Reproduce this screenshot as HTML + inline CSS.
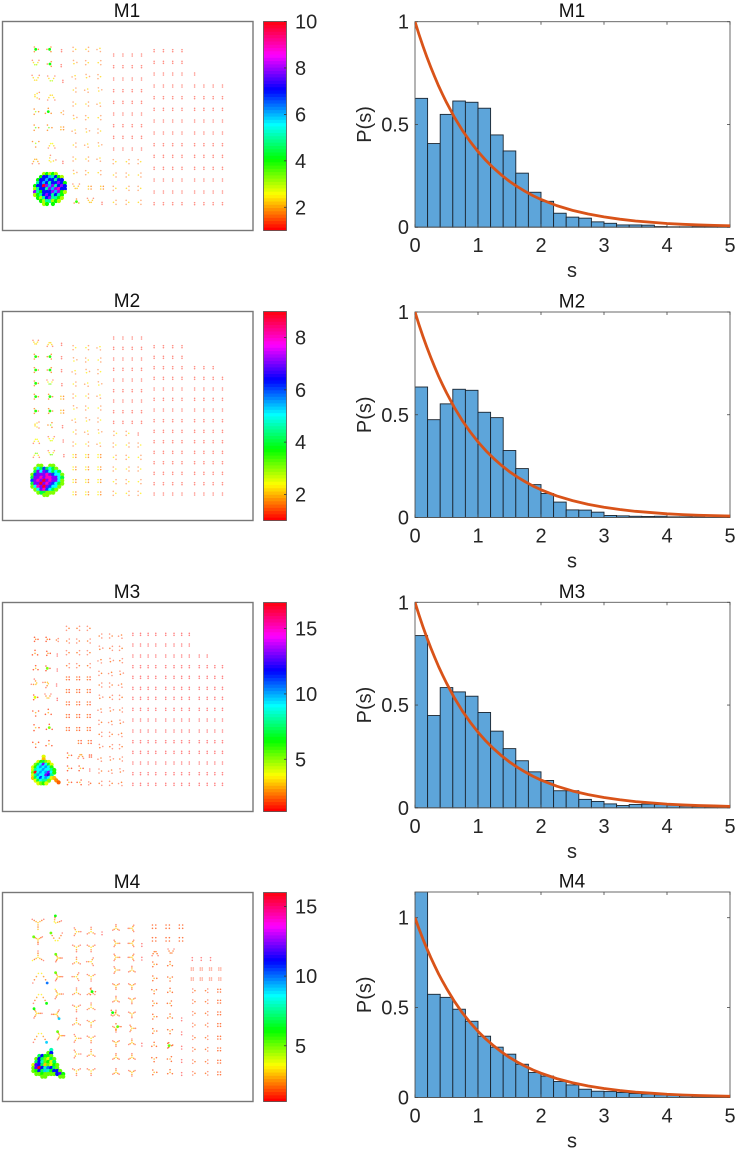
<!DOCTYPE html>
<html lang="en">
<head>
<meta charset="utf-8">
<title>M1-M4 scatter maps and spacing histograms</title>
<style>
html,body{margin:0;padding:0;background:#fff;}
svg{display:block;font-family:"Liberation Sans",Arial,sans-serif;}
</style>
</head>
<body>
<svg id="fig" xmlns="http://www.w3.org/2000/svg" width="736" height="1150" viewBox="0 0 736 1150"></svg>
<script>
/* ---------- histogram data (bin width 0.2) ---------- */
const binWidth = 0.2;
const histM1 = [.627,.407,.549,.614,.608,.579,.449,.371,.263,.170,.126,.068,.049,.044,.026,.019,.011,.011,.010,.003,.002,.002,.003,.002,.001];
const histM2 = [.635,.476,.553,.624,.619,.512,.486,.326,.238,.160,.117,.075,.037,.036,.026,.010,.008,.006,.005,.006,.003,.003,.002,.001,.001];
const histM3 = [.838,.449,.585,.564,.543,.464,.373,.288,.229,.175,.133,.083,.083,.041,.031,.019,.011,.016,.018,.016,.013,.008,.006,.005,.003];
const histM4 = [1.16,.574,.557,.491,.424,.341,.280,.241,.185,.139,.119,.089,.070,.046,.035,.033,.028,.022,.019,.015,.013,.009,.007,.006,.004];
const curveS = [0,.0625,.125,.1875,.25,.3125,.375,.4375,.5,.625,.75,.875,1,1.125,1.25,1.375,1.5,1.625,1.75,1.875,2,2.25,2.5,2.75,3,3.25,3.5,3.75,4,4.25,4.5,4.75,5];
const curveP = [1,.939,.882,.829,.779,.732,.687,.646,.607,.535,.472,.417,.368,.325,.287,.253,.223,.197,.174,.153,.135,.105,.082,.064,.050,.039,.030,.024,.018,.014,.011,.009,.007];
const xTickValues = [0,1,2,3,4,5];
const yTickValues = [0,0.5,1];
const yTickLabels = ['0','0.5','1'];

/* ---------- colour bar ranges and ticks ---------- */
const rangeM1 = [1,10];
const rangeM2 = [1,9];
const rangeM3 = [1,17];
const rangeM4 = [1,16];
const cbTicksM1 = [2,4,6,8,10];
const cbTicksM2 = [2,4,6,8];
const cbTicksM3 = [5,10,15];
const cbTicksM4 = [5,10,15];

/* ---------- scatter data: lattice blocks [xs, ys, motif, peak, size, rotation list] ---------- */
const blocksM1 = [
 [[222,260,297],[148,188,230,270,312,353,393,435,477,518],'tri',2.3,7,[90,270,30,210]],
 [[268,305],[563],'quad',2.2,4,[0]],
 [[343,382,418],[485,525,565,607],'tri',2.3,7,[90,270]],
 [[340,368,396,424],[165,200,237,272,307,342,377,412,447],'pair',1.2,3,[0]],
 [[462,490,518,546],[152,187,222,258,293,328,363,399,434,469,505,540,576,611],'pair',1.2,3,[0]],
 [[584],[222,258,293,328,363,399,434,469,505,540,576,611],'pair',1.2,3,[0]],
 [[612,640,668],[258,293,328,363,399,434,469,505,540,576,611],'pair',1.2,3,[0]]
];
const cellsM1 = [
 [105,148,'T',4,8,90],[147,148,'T',4,8,270],[183,152,'pair',1.3,3,0],
 [105,192,'V',3,11,0],[148,192,'T',4,8,270],[182,197,'pair',1.3,3,0],
 [105,238,'V',2.3,12,0],[152,240,'V',3,12,0],[187,244,'pair',1.3,3,0],
 [105,287,'V',2.3,11,90],[152,288,'V',2.3,12,180],
 [105,335,'T',3,9,90],[143,335,'T',4,10,0],[185,338,'tri',2,6,270],
 [105,383,'T',3.4,9,90],[145,383,'T',3.4,9,90],[185,385,'quad',2,4,0],
 [105,430,'T',3,11,180],[153,433,'V',2.6,11,180],
 [105,480,'V',2.1,11,180],[150,482,'V',2.5,12,40],[187,487,'pair',1.3,3,0],
 [227,563,'V',2.2,11,0],[228,605,'T',3.8,8,0],[270,605,'V',2.2,10,0],[305,610,'pair',1.4,3,0]
];
const blocksM2 = [
 [[222,260,297],[173,210,245,282,318,354,390,426,462],'tri',2.3,7,[90,270,30,210]],
 [[222,260,297],[498,535,573,610],'quad',2.3,4,[0]],
 [[340,368,396,424],[144,175,207,238,270,302,333,365,397],'pair',1.2,3,[0]],
 [[343,382,418],[465,502,537,575,610],'tri',2.3,7,[90,270]],
 [[345,382],[430],'tri',2.3,7,[90]],
 [[414],[432],'pair',1.4,3,[0]],
 [[462,490,518,546],[170,202,233,265,297,328,360,392,424,455,487,518,550,581,612],'pair',1.2,3,[0]],
 [[584,612,640],[233,265,297,328,360,392,424,455,487,518,550,581,612],'pair',1.2,3,[0]],
 [[668],[265,297,328,360,392,424,455,487,518,550,581,612],'pair',1.2,3,[0]]
];
const cellsM2 = [
 [105,160,'V',2.2,9,0],[148,160,'V',2.2,9,180],[183,163,'pair',1.3,3,0],
 [105,200,'T',3.6,8,90],[148,200,'T',3.6,8,270],[183,203,'pair',1.3,3,0],
 [105,240,'T',3.6,8,90],[148,240,'T',3.6,8,270],[183,242,'pair',1.3,3,0],
 [105,280,'T',3.6,8,90],[148,280,'V',3.6,10,0],[184,284,'pair',1.3,3,0],
 [105,320,'T',3.6,8,90],[148,320,'T',3.6,8,90],[185,323,'quad',2,4,0],
 [105,363,'T',3.6,8,90],[148,363,'T',3.6,8,90],[185,365,'quad',2,4,0],
 [105,405,'V',2.2,10,90],[150,405,'T',3,8,270],[186,410,'pair',1.3,3,0],
 [107,450,'V',2.4,10,180],[152,450,'V',2.6,10,0],[188,453,'pair',1.3,3,0],
 [107,492,'V',3,10,180],[152,492,'V',3.2,10,0],[190,497,'pair',1.3,3,0]
];
const blocksM3 = [
 [[202,233,265],[115,153,188,227],'tri',2.2,7,[90,270]],
 [[202,233,265],[265,303,340,378,417],'quad',2.2,4,[0]],
 [[238,268],[456],'quad',2.2,4,[0]],
 [[300,332,362],[138,175,212,250,285,322,360,397,433,470,507,543,580],'tri',2.2,7,[270,90,30,210]],
 [[398,421,444,467,497,522,545,568],[133,165,198,230,262,295,325,358,390,423,455,487,519,551,583],'pair',1.3,3,[0]],
 [[598,622],[198,230,262,295,325,358,390,423,455,487,519,551,583],'pair',1.3,3,[0]],
 [[645,668],[230,262,295,325,358,390,423,455,487,519,551,583],'pair',1.3,3,[0]]
];
const cellsM3 = [
 [105,148,'T',2.4,7,90],[140,148,'T',2.4,7,90],[170,150,'tri',2,5,270],
 [103,190,'T',2.6,9,0],[142,190,'T',2.6,7,90],[170,195,'pair',1.4,3,0],
 [105,235,'T',3,8,0],[140,235,'T',5,8,90],[170,240,'pair',1.4,3,0],
 [105,280,'V',5,10,300],[140,280,'V',5,10,240],[168,285,'pair',1.4,3,0],
 [103,322,'T',4,8,90],[142,322,'V',4.5,10,0],[170,328,'pair',1.4,3,0],
 [105,368,'T',2.8,10,180],[143,368,'T',2.8,10,0],
 [105,413,'T',3,10,90],[146,413,'T',5,10,0],
 [105,462,'T',2.8,10,180],[145,462,'T',3,10,0],
 [205,496,'T',3,8,90],[241,496,'V',2.5,9,180],[270,498,'quad',1.6,3,0],
 [205,535,'T',3,8,90],[240,535,'T',3,8,90],[268,540,'pair',1.4,3,0],
 [205,577,'T',3,8,90],[238,577,'T',3,8,270],[268,580,'tri',1.8,5,90]
];
const blocksM4 = [
 [[228,272],[185,232,275,320,367,412,458,505,552,603],'Y',3.4,13,[90,0,180,60,0,270,30,180,0,240,60,120,0,300,90,180]],
 [[305],[190],'pair',1.5,4,[0]],
 [[347,395],[175,220,262,300,347,390,432,475,518,562,607],'Y',3.2,11,[0,270,90,270,90,270,90,0,180,60,0,180,0,60,60,90,180,0,120,0,0,60]],
 [[425],[225,266,524],'pair',1.5,4,[0]],
 [[462,510],[283,325,363,400,440,483,525,567,607],'T',2.8,8,[90,0,90,60,180,0,90,270,90,0,90,180,0,90,60,270,90,0]],
 [[462,503,543],[170,208],'quad',1.8,5,[0]],
 [[545],[448,490,533,573,612],'pair',1.6,4,[0]],
 [[582,620],[362,395,430,465,503,538,575,610],'tri',2,6,[90,270]],
 [[658],[362,395,430,465,503,538,575,610],'quad',1.8,4,[0]],
 [[577,604,632],[267],'pair',1.5,4,[0]],
 [[577,604,632,660],[297,327],'quad',1.5,3,[0]]
];
const cellsM4 = [
 [112,158,'YL',3,20,300],[165,155,'VL',6,13,40],
 [112,208,'YL',5,15,60],[168,208,'VL',5,19,0],
 [112,262,'YL',3.4,19,0],[172,264,'YL',5,13,90],
 [118,315,'VL',10,24,180],[172,320,'YL',5,14,90],
 [118,378,'VL',6,22,180],[172,372,'YL',3.4,16,90],
 [108,430,'YL',6,16,90],[168,433,'YL',9,15,270],
 [118,495,'VL',9,22,180],[178,497,'YL',5,14,90],
 [465,247,'V',2,10,180],[513,247,'V',2,10,0],[337,428,'T',6,8,90],[352,470,'T',5,10,90],[507,527,'T',5,8,90],[275,365,'T',6,10,90]
];

/* ---------- scatter data: dense cluster rows [y, first x, step, values] ---------- */
const clusterM1 = [
 [522,103,9,[0,0,0,3,4,3,4,3,0,0,0]],[531,103,9,[0,0,4,7,7,6,5,7,4,3,0]],
 [540,103,9,[0,4,7,7,6,7,7,5,7,7,0]],[549,103,9,[0,5,7,6,7,5,7,7,8,7,4]],
 [558,103,9,[4,7,7,10,8,6,8,5,7,8,7]],[567,103,9,[3,5,7,7,5,8,6,8,9,7,7]],
 [576,103,9,[8,5,4,7,7,7,8,6,8,4,3]],[585,103,9,[3,4,5,7,8,7,5,7,5,4,0]],
 [594,103,9,[0,4,3,5,7,8,5,5,4,3,0]],[603,103,9,[0,0,4,3,5,5,3,4,3,0,0]],
 [612,103,9,[0,0,0,3,4,0,4,0,0,0,0]]
];
const clusterM2 = [
 [527,95,9,[0,0,3,3,0,0,3,3,0,0,0]],[536,95,9,[0,3,5,4,6,4,5,4,3,0,0]],
 [545,95,9,[0,4,7,5,7,6,5,4,5,4,0]],[554,95,9,[3,6,7,7,7,8,7,6,5,5,3]],
 [563,95,9,[4,7,7,8,7,8,8,7,7,5,4]],[572,95,9,[6,7,8,7,9,7,8,7,7,5,3]],
 [581,95,9,[4,7,7,9,7,8,7,6,5,4,3]],[590,95,9,[3,5,8,7,9,7,6,5,5,3,0]],
 [599,95,9,[0,3,5,7,8,6,5,4,3,0,0]],[608,95,9,[0,0,3,4,4,3,3,3,0,0,0]],
 [615,95,9,[0,0,0,0,3,3,0,0,0,0,0]]
];
const clusterM3 = [
 [500,97,8,[0,0,0,0,4,0,0,0,0]],[508,97,8,[0,0,0,0,3,0,0,0,0]],
 [516,97,8,[0,0,4,6,7,5,4,0,0]],[524,97,8,[0,5,7,9,13,9,6,4,0]],
 [532,97,8,[4,6,9,10,9,10,9,6,0]],[540,97,8,[4,8,9,9,10,9,9,8,6]],
 [548,97,8,[5,17,9,10,9,10,13,9,6]],[556,97,8,[4,8,10,9,9,13,12,8,0]],
 [564,97,8,[3,7,9,11,9,10,9,4,3]],[572,97,8,[0,4,7,9,8,8,5,0,0]],
 [580,97,8,[0,0,4,5,6,4,0,0,0]],[571,167,7,[2.5]],[577,174,7,[2]]
];
const clusterM4 = [
 [540,98,9,[0,0,0,0,0,0,8,0,0,0,0]],[549,98,9,[0,0,0,0,0,5,11,0,0,0,0]],
 [558,98,9,[0,0,7,11,6,6,5,0,0,0,0]],[567,98,9,[0,5,11,7,5,4,7,5,0,0,0]],
 [576,98,9,[0,7,11,8,5,6,4,7,0,0,0]],[585,98,9,[4,12,11,7,3,5,4,6,5,0,0]],
 [594,98,9,[5,12,16,11,8,10,11,7,5,0,0]],[603,98,9,[5,6,11,7,9,8,6,11,11,5,0]],
 [612,98,9,[0,5,5,6,5,5,5,5,11,12,6]],[620,98,9,[0,0,0,5,5,0,0,0,0,5,5]]
];

/* ---------- marker motifs: offsets in cell size units plus weight (1 = peak value) ---------- */
const motifs = {
 pair:[[0,-1,0],[0,1,0]],
 quad:[[-1,-1,.5],[-1,1,.5],[1,-1,.2],[1,1,.2]],
 tri:[[0,-.5,1],[-.85,.6,.15],[.85,.6,.15]],
 T:[[0,0,1],[0,-1,.2],[.87,.5,.2],[-.87,.5,.2]],
 Y:[[0,0,1],[0,-.55,.5],[0,-1,.05],[.48,.28,.5],[.87,.5,.05],[-.48,.28,.5],[-.87,.5,.05]],
 YL:[[0,0,.8],[0,-.33,.6],[0,-.66,.3],[0,-1,.05],[.29,.17,.6],[.57,.33,.3],[.87,.5,.05],[-.29,.17,.6],[-.57,.33,.3],[-.87,.5,1]],
 V:[[-.9,-1,.05],[-.6,-.4,.4],[-.25,.2,.75],[.25,.2,.75],[.6,-.4,.4],[.9,-1,.05]],
 VL:[[-.9,-1,1],[-.7,-.6,.3],[-.45,-.2,.5],[-.2,.2,.8],[.2,.2,.8],[.45,-.2,.5],[.7,-.6,.3],[.9,-1,.05]]
};

/* ---------- layout ---------- */
const svgRoot = document.getElementById('fig');
const NS = 'http://www.w3.org/2000/svg';
function mk(parent, tag, attrs){
  const el = document.createElementNS(NS, tag);
  for(const k in attrs) el.setAttribute(k, attrs[k]);
  parent.appendChild(el);
  return el;
}
function hsvColor(v, range){
  const level = Math.min(63, Math.floor((v-range[0])/(range[1]-range[0])*64));
  return 'hsl(' + (level/64*360) + ',100%,50%)';
}

function drawScatter(title, top, domainY, range, blocks, cells, cluster, ticks){
  const left = 2.5, right = 253, height = 209;
  const xS = v => left + (v-5)*(right-left)/755;
  const yS = v => top + (v-domainY)*height/627;

  const t = mk(svgRoot,'text',{x:127,y:top-4,'text-anchor':'middle','font-size':19,fill:'#111'});
  
  
  t.textContent = title;

  const frame = mk(svgRoot,'rect',{x:left,y:top+.5,width:right-left,height:height,fill:'#fff',stroke:'#777','stroke-width':1.4});
  
  

  const g = mk(svgRoot,'g',{});
  
  

  function drawCell(x,y,motif,peak,size,rot){
    const a = rot*Math.PI/180, c = Math.cos(a), s = Math.sin(a);
    motifs[motif].forEach(o=>{
      const dx = o[0]*size, dy = o[1]*size;
      const val = o[2] === 1 ? peak : Math.min(peak, 1.15 + o[2]*2.8);
      const strong = val > 3.4;
      const d = mk(g,'circle',{cx:xS(x+dx*c-dy*s).toFixed(2),cy:yS(y+dx*s+dy*c).toFixed(2),r:strong?1.4:.8,fill:hsvColor(val,range),'fill-opacity':strong?.95:(val<1.6?.48:.72)});
      
      
    });
  }
  blocks.forEach(b=>{
    let idx = 0;
    b[1].forEach(y=>{
      b[0].forEach(x=>{
        drawCell(x,y,b[2],b[3],b[4],b[5][idx % b[5].length]);
        idx++;
      });
    });
  });
  cells.forEach(c=>drawCell(c[0],c[1],c[2],c[3],c[4],c[5]));
  cluster.forEach(row=>{
    row[3].forEach((v,i)=>{
      if(!v) return;
      const d = mk(g,'circle',{cx:xS(row[1]+i*row[2]).toFixed(2),cy:yS(row[0]).toFixed(2),r:2.1,fill:hsvColor(v,range)});
      
      
    });
  });

  /* colour bar */
  const cbX = 263.5, cbW = 23, cbTop = top+.5;
  const cb = mk(svgRoot,'g',{});
  
  
  for(let i=0;i<64;i++){
    const val = range[0] + (i+.5)/64*(range[1]-range[0]);
    const r = mk(cb,'rect',{x:cbX,y:(cbTop+height-(i+1)*height/64).toFixed(2),width:cbW,height:(height/64+.4).toFixed(2),fill:hsvColor(val,range)});
    
    
  }
  const cbFrame = mk(cb,'rect',{x:cbX,y:cbTop,width:cbW,height:height,fill:'none',stroke:'#555','stroke-width':.8});
  
  
  const cbY = v => cbTop + height - (v-range[0])/(range[1]-range[0])*height;
  ticks.forEach(v=>{
    const tk = mk(cb,'line',{x1:cbX+cbW-2.5,x2:cbX+cbW,y1:cbY(v),y2:cbY(v),stroke:'#333','stroke-width':.8});
    
    
    const lb = mk(cb,'text',{x:295,y:cbY(v)+7,'font-size':20,fill:'#262626'});
    
    
    lb.textContent = v;
  });
}

function drawHist(title, top, yMax, values){
  const left = 415, right = 730, height = 205.5, bottom = top+height;
  const xS = s => left + s*(right-left)/5;
  const yS = p => bottom - p*height/yMax;

  const clipId = 'clip-' + title;
  const defs = mk(svgRoot,'defs',{});
  const cp = mk(defs,'clipPath',{id:clipId});
  mk(cp,'rect',{x:left,y:top,width:right-left,height:height+1});

  const t = mk(svgRoot,'text',{x:572,y:top-4.5,'text-anchor':'middle','font-size':19,fill:'#111'});
  
  
  t.textContent = title;

  const bars = mk(svgRoot,'g',{'clip-path':'url(#'+clipId+')'});
  
  
  values.forEach((v,i)=>{
    const x0 = xS(i*binWidth), x1 = xS((i+1)*binWidth), y = yS(v);
    const b = mk(bars,'rect',{x:x0.toFixed(2),y:y.toFixed(2),width:(x1-x0).toFixed(2),height:(bottom-y).toFixed(2),fill:'#5da5da',stroke:'#1a2530','stroke-width':.9});
    
    
  });

  const frame = mk(svgRoot,'rect',{x:left,y:top,width:right-left,height:height,fill:'none',stroke:'#5a5a5a','stroke-width':.9});
  
  

  xTickValues.forEach(v=>{
    [[bottom,bottom-3],[top,top+3]].forEach(p=>{
      const tk = mk(svgRoot,'line',{x1:xS(v),x2:xS(v),y1:p[0],y2:p[1],stroke:'#444','stroke-width':.8});
      
      
    });
    const lb = mk(svgRoot,'text',{x:xS(v),y:bottom+25,'text-anchor':'middle','font-size':20,fill:'#262626'});
    
    
    lb.textContent = v;
  });
  yTickValues.forEach((v,i)=>{
    [[left,left+3],[right,right-3]].forEach(p=>{
      const tk = mk(svgRoot,'line',{x1:p[0],x2:p[1],y1:yS(v),y2:yS(v),stroke:'#444','stroke-width':.8});
      
      
    });
    const lb = mk(svgRoot,'text',{x:409,y:yS(v)+7,'text-anchor':'end','font-size':20,fill:'#262626'});
    
    
    lb.textContent = yTickLabels[i];
  });

  const d = curveS.map((s,i)=>(i?'L':'M')+xS(s).toFixed(2)+' '+yS(curveP[i]).toFixed(2)).join('');
  const curve = mk(svgRoot,'path',{d:d,fill:'none',stroke:'#d95319','stroke-width':2.8,'stroke-linejoin':'round','clip-path':'url(#'+clipId+')'});
  
  

  const xl = mk(svgRoot,'text',{x:572,y:bottom+50,'text-anchor':'middle','font-size':20,fill:'#262626'});
  
  
  xl.textContent = 's';

  const cy = top+height/2;
  const yl = mk(svgRoot,'text',{x:371,y:cy,'text-anchor':'middle','font-size':20,fill:'#262626',transform:'rotate(-90 371 '+cy+')'});
  
  
  yl.textContent = 'P(s)';
}

drawScatter('M1',21,63,rangeM1,blocksM1,cellsM1,clusterM1,cbTicksM1);
drawScatter('M2',311,63,rangeM2,blocksM2,cellsM2,clusterM2,cbTicksM2);
drawScatter('M3',602,36,rangeM3,blocksM3,cellsM3,clusterM3,cbTicksM3);
drawScatter('M4',892,66,rangeM4,blocksM4,cellsM4,clusterM4,cbTicksM4);
drawHist('M1',21.7,1,histM1);
drawHist('M2',312,1,histM2);
drawHist('M3',602.3,1,histM3);
drawHist('M4',892,1.143,histM4);
</script>
</body>
</html>
